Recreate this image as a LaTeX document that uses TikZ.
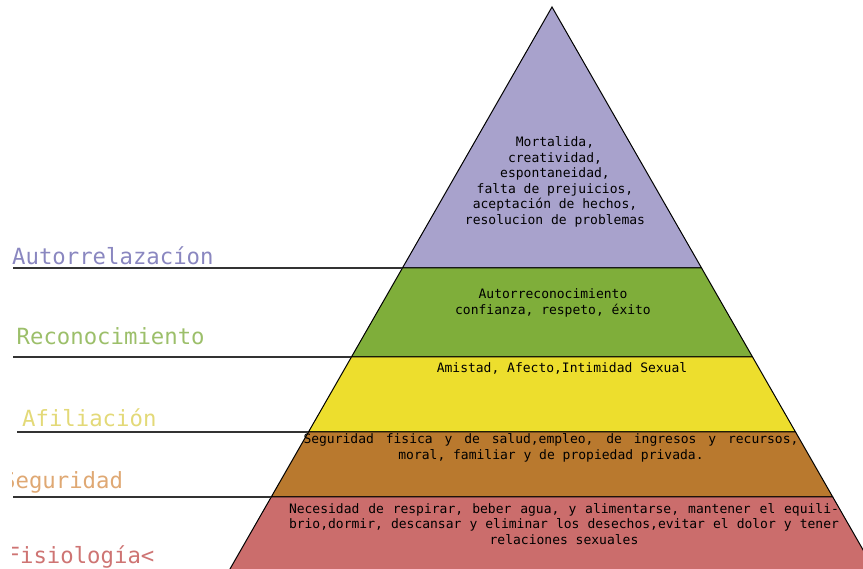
\documentclass[tikz,border=0pt]{standalone}
\usepackage{fontspec}
\setmainfont{DejaVu Sans Mono}
\usetikzlibrary{positioning}

\definecolor{autocol}{HTML}{A8A2CC}
\definecolor{recocol}{HTML}{7FAE3A}
\definecolor{afilcol}{HTML}{EDDE2D}
\definecolor{segucol}{HTML}{B9792E}
\definecolor{fisicol}{HTML}{CB6D6C}

\definecolor{autoetq}{HTML}{8A87C0}
\definecolor{recoetq}{HTML}{9CBF6A}
\definecolor{afiletq}{HTML}{E3D978}
\definecolor{seguetq}{HTML}{DFA873}
\definecolor{fisietq}{HTML}{CE7473}

% una linea justificada de ancho fijo
\newcommand{\lineajust}[2]{\makebox[#1][s]{\spaceskip=7.8pt plus 1fil\relax #2}}

\tikzset{
  etiqueta/.style={anchor=base west,inner sep=0pt,font=\fontsize{22.3}{26}\selectfont},
  texto/.style={inner sep=0pt,align=center,font=\fontsize{13}{15.5}\selectfont},
  linea/.style={draw=black!80,line width=1.2pt}
}

\begin{document}
\begin{tikzpicture}[x=1pt,y=-1pt]
      \def\ax{552}
      \def\ay{7}
      \def\s{0.573}

      \useasboundingbox (0,0) rectangle (863,569);
      \clip (0,0) rectangle (863,569);

      % niveles de la piramide
      \foreach \ya/\yz/\col in {7/268/autocol, 268/357/recocol, 357/432/afilcol,
                                432/497/segucol, 497/600/fisicol}
               {
                 \filldraw[fill=\col,draw=black,line width=1pt]
                 ({\ax-\s*(\ya-\ay)},\ya) -- ({\ax+\s*(\ya-\ay)},\ya) --
                 ({\ax+\s*(\yz-\ay)},\yz) -- ({\ax-\s*(\yz-\ay)},\yz) -- cycle;
               }

      % puntos del borde izquierdo
      \coordinate (b1) at ({\ax-\s*(268-\ay)},268);
      \coordinate (b2) at ({\ax-\s*(357-\ay)},357);
      \coordinate (b3) at ({\ax-\s*(432-\ay)},432);
      \coordinate (b4) at ({\ax-\s*(497-\ay)},497);

      \coordinate (l1) at (13,268);
      \coordinate (l2) at (13,357);
      \coordinate (l3) at (17,432);
      \coordinate (l4) at (13,497);

      % lineas de las etiquetas
      \draw[linea] (l1) -- (b1);
      \draw[linea] (l2) -- (b2);
      \draw[linea] (l3) -- (b3);
      \draw[linea] (l4) -- (b4);

      % etiquetas
      \node[etiqueta,text=autoetq] (autoetq) at (12,265) {Autorrelazacíon};
      \node[etiqueta,text=recoetq] (recoetq) at (16.5,345) {Reconocimiento};
      \node[etiqueta,text=afiletq] (afiletq) at (22,427) {Afiliación};
      \begin{scope}
        \clip (12,440) rectangle (300,569);
        \node[etiqueta,text=seguetq] (seguetq) at (2,489) {Seguridad};
        \node[etiqueta,text=fisietq] (fisietq) at (6.5,563) {Fisiología<};
      \end{scope}

      % textos dentro de la piramide
      \node[texto] (autotxt) at (555,182)
           {Mortalida,\\creatividad,\\espontaneidad,\\falta de prejuicios,\\
            aceptación de hechos,\\resolucion de problemas};

      \node[texto] (recotxt) at (553,303)
           {Autorreconocimiento\\confianza, respeto, éxito};

      \node[texto,anchor=base] (afiltxt) at (562,373)
           {Amistad, Afecto,Intimidad Sexual};

      \node[texto] (segutxt) at (551,448)
           {\lineajust{495pt}{Seguridad fisica y de salud,empleo, de ingresos y recursos,}\\
            moral, familiar y de propiedad privada.};

      \node[texto] (fisitxt) at (564,524)
           {\lineajust{550pt}{Necesidad de respirar, beber agua, y alimentarse, mantener el equili-}\\
            \lineajust{550pt}{brio,dormir, descansar y eliminar los desechos,evitar el dolor y tener}\\
            relaciones sexuales};
\end{tikzpicture}
\end{document}
